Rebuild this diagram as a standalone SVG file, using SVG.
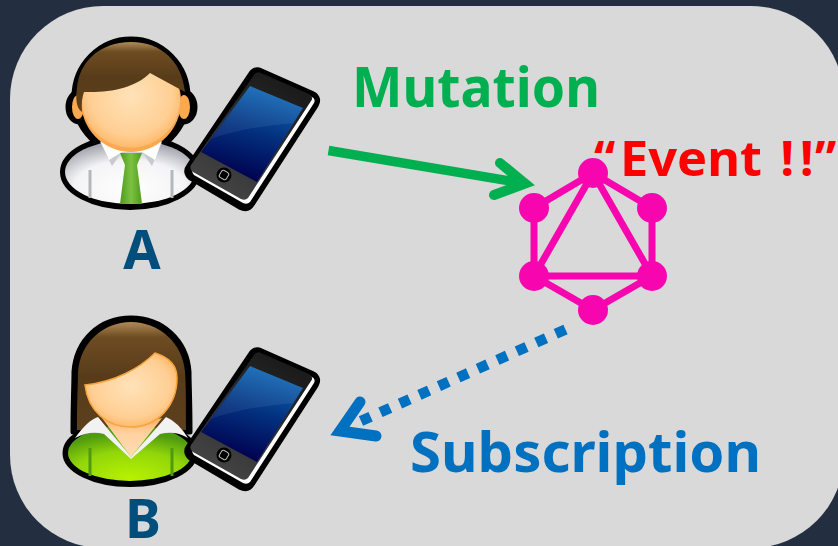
<svg xmlns="http://www.w3.org/2000/svg" width="838" height="546" viewBox="0 0 838 546">
<style>
.lbl{font-family:"Noto Sans","Noto Sans CJK JP",sans-serif;font-weight:700}
.gq{stroke:#f706b0;stroke-width:7;fill:none}
.gqn{fill:#f706b0}
.sil{fill:#000;stroke:#000;stroke-width:5;stroke-linejoin:round}
.fold{stroke:#b5b7bd;stroke-width:3;fill:none}
.foldg{stroke:#4f9a10;stroke-width:3;fill:none}
</style>
<defs>
<linearGradient id="hair" x1="0" y1="0" x2="0" y2="1"><stop offset="0" stop-color="#b08a58"/><stop offset=".14" stop-color="#6e4c22"/><stop offset=".5" stop-color="#583c1a"/><stop offset="1" stop-color="#5c3f1c"/></linearGradient>
<radialGradient id="skin" cx=".5" cy=".45" r=".6"><stop offset="0" stop-color="#ffe2b8"/><stop offset=".7" stop-color="#ffcf94"/><stop offset="1" stop-color="#fdb25e"/></radialGradient>
<radialGradient id="shirt" cx=".5" cy=".75" r=".72"><stop offset="0" stop-color="#fff"/><stop offset=".6" stop-color="#f4f4f6"/><stop offset="1" stop-color="#a0a2ab"/></radialGradient>
<linearGradient id="tie" x1="0" y1="0" x2="1" y2="0"><stop offset="0" stop-color="#4f9a1c"/><stop offset=".5" stop-color="#7cc242"/><stop offset="1" stop-color="#4f9a1c"/></linearGradient>
<radialGradient id="top" cx=".5" cy=".95" r=".8"><stop offset="0" stop-color="#b8f200"/><stop offset=".6" stop-color="#92d60a"/><stop offset="1" stop-color="#4f9a10"/></radialGradient>
<linearGradient id="neck" x1="0" y1="0" x2="0" y2="1"><stop offset="0" stop-color="#f9b26a"/><stop offset=".4" stop-color="#ffd2a0"/><stop offset="1" stop-color="#ffdcb4"/></linearGradient>
<linearGradient id="screen" x1="253" y1="88" x2="228" y2="175" gradientUnits="userSpaceOnUse"><stop offset="0" stop-color="#0f65b3"/><stop offset=".45" stop-color="#03317f"/><stop offset="1" stop-color="#00004e"/></linearGradient>
<linearGradient id="case" x1="280" y1="85" x2="215" y2="190" gradientUnits="userSpaceOnUse"><stop offset="0" stop-color="#1c1c1c"/><stop offset="1" stop-color="#444"/></linearGradient>
<g id="phone">
<path d="M260 73L312 96Q317 99 314 104L250 203Q247 208 241 205L192 176Q187 172 191 167L253 75Q256 71 260 73Z" fill="#000" stroke="#000" stroke-width="10" stroke-linejoin="round"/>
<path d="M262 75L312 97Q316 99 314 103L250 202Q247 205 243 203L194 175Q191 172 193 168L255 77Q258 73 262 75Z" fill="#fff"/>
<path d="M261 73L309 94Q314 97 311 101L248 198Q245 201 241 199L193 172Q189 169 191 165L254 75Q257 71 261 73Z" fill="url(#case)"/>
<path d="M250 86L303 108L257 182L201 152Z" fill="url(#screen)"/>
<path d="M250 86L303 108L293 123Q245 127 211 139Z" fill="#fff" opacity=".07"/>
<circle cx="224" cy="175" r="7.5" fill="#000"/>
<rect x="220" y="171" width="8" height="8" rx="2" fill="none" stroke="#bbb" stroke-width="1" transform="rotate(31 224 175)"/>
</g>
</defs>
<rect width="838" height="546" fill="#232f41"/>
<rect x="10" y="6" width="834" height="542" rx="93" fill="#d9d9d9"/>

<g id="connectors">
<path d="M328.5 150.5L525 183.5" stroke="#00b050" stroke-width="9.5" fill="none"/>
<path d="M500 163L525 183.5L494 195" stroke="#00b050" stroke-width="10" stroke-linecap="round" stroke-miterlimit="10" fill="none"/>
<path d="M565.5 329.5L361 421" stroke="#0070c0" stroke-width="10.5" stroke-dasharray="10.6 10.75" fill="none"/>
<path d="M360 402L340 431L376 436" stroke="#0070c0" stroke-width="11" stroke-linecap="round" stroke-miterlimit="10" fill="none"/>
</g>

<g id="user-a">
<ellipse class="sil" cx="130" cy="172" rx="67.5" ry="35.5"/>
<ellipse class="sil" cx="131" cy="97" rx="57" ry="58"/>
<ellipse class="sil" cx="79" cy="107" rx="11" ry="15"/>
<ellipse class="sil" cx="184" cy="107" rx="11" ry="15"/>
<ellipse cx="130" cy="172" rx="65" ry="32" fill="url(#shirt)"/>
<path class="fold" d="M90 170V198M172 170V198"/>
<path d="M100 142L112 166L122 152L142 152L152 166L162 142L131 150Z" fill="#c9cad0"/>
<path d="M100 140L109 160L122 152L142 152L155 160L162 140L131 148Z" fill="#fff"/>
<ellipse cx="78" cy="107" rx="6" ry="12" fill="#fba94f"/>
<ellipse cx="184" cy="107" rx="6" ry="12" fill="#fba94f"/>
<ellipse cx="131" cy="101" rx="50" ry="51" fill="#fba94f"/>
<ellipse cx="131" cy="100" rx="49" ry="47.5" fill="url(#skin)"/>
<path d="M120 153H142L137 165L142 204H120L125 165Z" fill="url(#tie)"/>
<path d="M82 112C75 108 76 94 77 88C79 62 100 42 131 42C162 42 182 62 185 92L150 73C135 88 110 93 84 92Q81 100 82 112Z" fill="url(#hair)"/>
<use href="#phone"/>
</g>
<text class="lbl" x="142" y="269" font-size="54" fill="#004e7c" text-anchor="middle">A</text>

<g id="user-b">
<path class="sil" d="M73 432C73 400 74 385 74 372C76 340 100 318 131 318C162 318 187 340 189 372C189 385 190 400 190 432Z"/>
<ellipse class="sil" cx="130" cy="453" rx="65" ry="31.5"/>
<path d="M77 430C77 400 78 385 78 372C80 343 103 322 131 322C159 322 183 343 185 372C186 385 186 400 186 430Z" fill="url(#hair)"/>
<ellipse cx="130" cy="453" rx="62" ry="28" fill="url(#top)"/>
<path class="foldg" d="M90 448V476M172 448V476"/>
<path d="M75 438Q88 420 98 417L131 457L166 417Q178 422 188 438Q175 430 160 434L131 459L104 434Q90 430 75 438Z" fill="#f2f2f2"/>
<path d="M102 418L131 457L162 418L131 425Z" fill="url(#neck)"/>
<path d="M85 385C88 412 108 427 131 427C158 427 177 405 177 378C177 365 168 357 155 353C140 368 115 382 85 385Z" fill="url(#skin)" stroke="#f9a43e" stroke-width="1.5"/>
<g transform="translate(0 280)"><use href="#phone"/></g>
</g>
<text class="lbl" x="143" y="538" font-size="54" fill="#004e7c" text-anchor="middle">B</text>

<g id="graphql">
<path class="gq" d="M593 173L652 208V276L593 310L534 276V208Z"/>
<path class="gq" d="M593 173L652 276H534Z"/>
<g class="gqn"><circle cx="593" cy="173" r="15"/><circle cx="652" cy="208" r="15"/><circle cx="652" cy="276" r="15"/><circle cx="593" cy="310" r="15"/><circle cx="534" cy="276" r="15"/><circle cx="534" cy="208" r="15"/></g>
</g>
<text class="lbl" x="352" y="107" font-size="55" fill="#00b050" textLength="248" lengthAdjust="spacingAndGlyphs">Mutation</text>
<text class="lbl" y="176" font-size="48" fill="#ff0000"><tspan x="594">“</tspan><tspan x="620" textLength="142" lengthAdjust="spacingAndGlyphs">Event</tspan><tspan x="768"> !</tspan><tspan x="800">!</tspan><tspan x="815">”</tspan></text>
<text class="lbl" x="410" y="472" font-size="56" fill="#0070c0" textLength="351" lengthAdjust="spacingAndGlyphs">Subscription</text>
</svg>
